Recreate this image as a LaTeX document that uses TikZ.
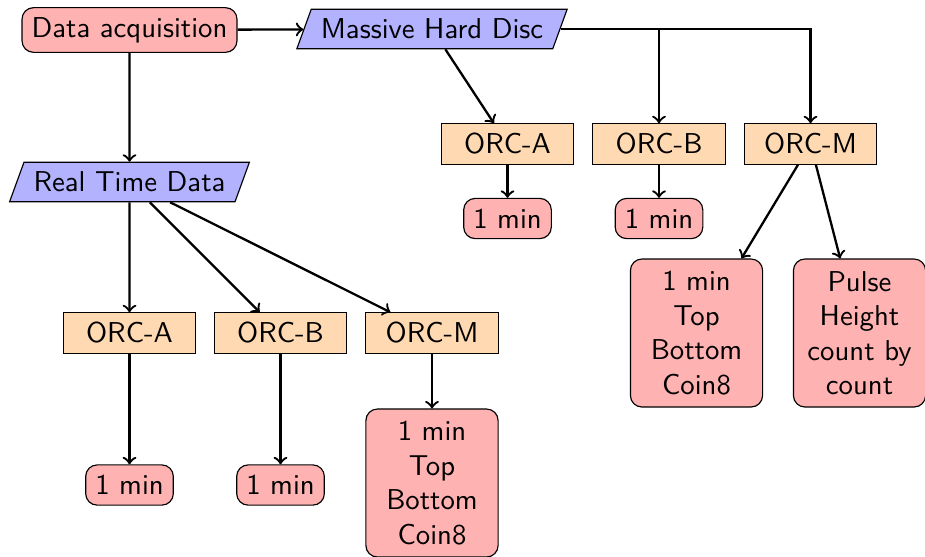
\documentclass[tikz,border=0pt]{standalone}
\usetikzlibrary{shapes.geometric}
\begin{document}
\begin{tikzpicture}[x=0.348pt,y=-0.348pt,
  font=\sffamily,
  base/.style={draw, line width=0.4pt},
  term/.style={base, fill=red!30, rounded corners=4pt},
  io/.style={base, fill=blue!30, trapezium, trapezium left angle=70, trapezium right angle=110, trapezium stretches body},
  proc/.style={base, fill=orange!30, minimum width=46pt, minimum height=14pt},
  big/.style={term, align=center, minimum width=46pt, minimum height=51.5pt},
  arr/.style={->, thick}]
\useasboundingbox (0,0) rectangle (925,556);
\node[term, minimum height=15.3pt] (da) at (129.5,30) {Data acquisition};
\node[io, minimum height=13.2pt] (mhd) at (432,29) {Massive Hard Disc};
\node[io, minimum height=13.2pt] (rtd) at (129.5,182) {Real Time Data};
% right branch
\node[proc] (oa2) at (507.5,144) {ORC-A};
\node[proc] (ob2) at (659,144) {ORC-B};
\node[proc] (om2) at (810.5,144) {ORC-M};
\node[term, minimum height=14pt] (ma2) at (507.5,218.5) {1 min};
\node[term, minimum height=14pt] (mb2) at (659,218.5) {1 min};
\node[big] (tbc2) at (696.5,333) {1 min\\Top\\Bottom\\Coin8};
\node[big] (ph) at (859.5,333) {Pulse\\Height\\count by\\count};
% left branch
\node[proc] (oa1) at (129.5,333) {ORC-A};
\node[proc] (ob1) at (280.5,333) {ORC-B};
\node[proc] (om1) at (432,333) {ORC-M};
\node[term, minimum height=14pt] (ma1) at (129.5,485) {1 min};
\node[term, minimum height=14pt] (mb1) at (280.5,485) {1 min};
\node[big] (tbc1) at (432,483) {1 min\\Top\\Bottom\\Coin8};
% connectors
\draw[arr] (da) -- (mhd);
\draw[arr] (da) -- (rtd);
\draw[arr] (mhd) -- (oa2);
\draw[arr] (mhd.east) -| (ob2);
\draw[arr] (mhd.east) -| (om2);
\draw[arr] (oa2) -- (ma2);
\draw[arr] (ob2) -- (mb2);
\draw[arr] (om2) -- (tbc2);
\draw[arr] (om2) -- (ph);
\draw[arr] (rtd) -- (oa1);
\draw[arr] (rtd) -- (ob1);
\draw[arr] (rtd) -- (om1);
\draw[arr] (oa1) -- (ma1);
\draw[arr] (ob1) -- (mb1);
\draw[arr] (om1) -- (tbc1);
\end{tikzpicture}
\end{document}
